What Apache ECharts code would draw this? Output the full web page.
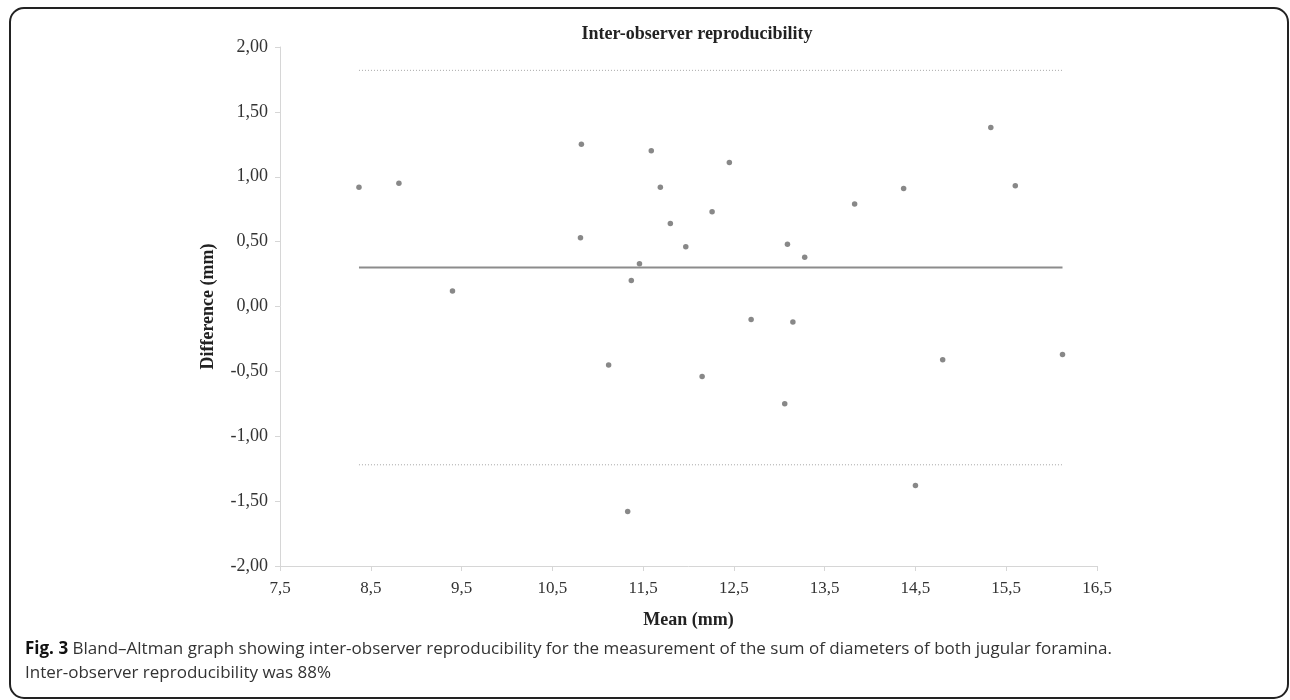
<!DOCTYPE html>
<html>
<head>
<meta charset="utf-8">
<script src="https://cdn.jsdelivr.net/npm/echarts@6/dist/echarts.min.js"></script>
<style>
html,body{margin:0;padding:0;background:#fff;}
#c{width:1290px;height:700px;}
</style>
</head>
<body>
<div id="c"></div>
<script>
// Mean of both observers (mm)
const meanX = [8.37, 8.81, 9.40, 10.82, 10.81, 11.59, 11.69, 11.80, 12.26, 12.45, 11.97, 11.46, 11.37, 12.69,
  15.33, 15.60, 14.37, 13.83, 13.09, 13.28, 13.15, 13.06, 14.80, 16.12, 14.50, 11.12, 12.15, 11.33];
// Difference between observers (mm)
const diffY = [0.92, 0.95, 0.12, 1.25, 0.53, 1.20, 0.92, 0.64, 0.73, 1.11, 0.46, 0.33, 0.20, -0.10,
  1.38, 0.93, 0.91, 0.79, 0.48, 0.38, -0.12, -0.75, -0.41, -0.37, -1.38, -0.45, -0.54, -1.58];
const meanDiff = 0.30;
const upperLoA = 1.82;
const lowerLoA = -1.22;
const yTicks = [-2, -1.5, -1, -0.5, 0, 0.5, 1, 1.5, 2];
const xTicks = [7.5, 8.5, 9.5, 10.5, 11.5, 12.5, 13.5, 14.5, 15.5, 16.5];

const points = meanX.map((x, i) => [x, diffY[i]]);
const xMin = Math.min(...meanX), xMax = Math.max(...meanX);
const hLine = v => [[xMin, v], [xMax, v]];

const chart = echarts.init(document.getElementById('c'), null, {renderer: 'canvas'});
const serif = 'Liberation Serif';
chart.setOption({
  animation: false,
  backgroundColor: '#fff',
  title: {
    text: 'Inter-observer reproducibility',
    left: 692, top: 20, textAlign: 'center',
    textStyle: {fontFamily: serif, fontWeight: 'bold', fontSize: 18, color: '#222'}
  },
  grid: {left: 280, right: 193, top: 47, bottom: 134, containLabel: false},
  xAxis: {
    type: 'value', min: xTicks[0], max: xTicks[xTicks.length - 1], interval: 1,
    name: 'Mean (mm)', nameLocation: 'middle', nameGap: 45,
    nameTextStyle: {fontFamily: serif, fontWeight: 'bold', fontSize: 18, color: '#222'},
    axisLine: {show: true, onZero: false, lineStyle: {color: '#d6d6d6', width: 1}},
    axisTick: {show: true, inside: false, length: 5, lineStyle: {color: '#d6d6d6'}},
    axisLabel: {fontFamily: serif, fontSize: 17, color: '#333', margin: 14,
      formatter: v => v.toFixed(1).replace('.', ',')},
    splitLine: {show: false}
  },
  yAxis: {
    type: 'value', min: yTicks[0], max: yTicks[yTicks.length - 1], interval: 0.5,
    name: 'Difference (mm)', nameLocation: 'middle', nameGap: 63, nameRotate: 90,
    nameTextStyle: {fontFamily: serif, fontWeight: 'bold', fontSize: 18, color: '#222'},
    axisLine: {show: true, onZero: false, lineStyle: {color: '#d6d6d6', width: 1}},
    axisTick: {show: true, inside: false, length: 5, lineStyle: {color: '#d6d6d6'}},
    axisLabel: {fontFamily: serif, fontSize: 18, color: '#333', margin: 12,
      formatter: v => v.toFixed(2).replace('.', ',')},
    splitLine: {show: false}
  },
  series: [
    {type: 'line', data: hLine(upperLoA), symbol: 'none', silent: true,
      lineStyle: {color: '#a8a8a8', width: 1, type: [1, 2]}},
    {type: 'line', data: hLine(lowerLoA), symbol: 'none', silent: true,
      lineStyle: {color: '#a8a8a8', width: 1, type: [1, 2]}},
    {type: 'line', data: hLine(meanDiff), symbol: 'none', silent: true,
      lineStyle: {color: '#8c8c8c', width: 2}},
    {type: 'scatter', data: points, symbol: 'circle', symbolSize: 5.5,
      itemStyle: {color: '#6a6a6a'}}
  ],
  graphic: [
    {type: 'rect', shape: {x: 10, y: 8, width: 1278, height: 690, r: 14},
      style: {fill: null, stroke: '#222', lineWidth: 2}, silent: true},
    {type: 'text', left: 25, top: 641,
      style: {text: '{b|Fig. 3} Bland–Altman graph showing inter-observer reproducibility for the measurement of the sum of diameters of both jugular foramina.',
        fontFamily: 'Open Sans', fontSize: 17, fill: '#333',
        rich: {b: {fontFamily: 'Open Sans', fontWeight: 'bold', fontSize: 17, fill: '#111', color: '#111'}}}},
    {type: 'text', left: 25, top: 665,
      style: {text: 'Inter-observer reproducibility was 88%', fontFamily: 'Open Sans', fontSize: 17, fill: '#333'}}
  ]
});
</script>
</body>
</html>
